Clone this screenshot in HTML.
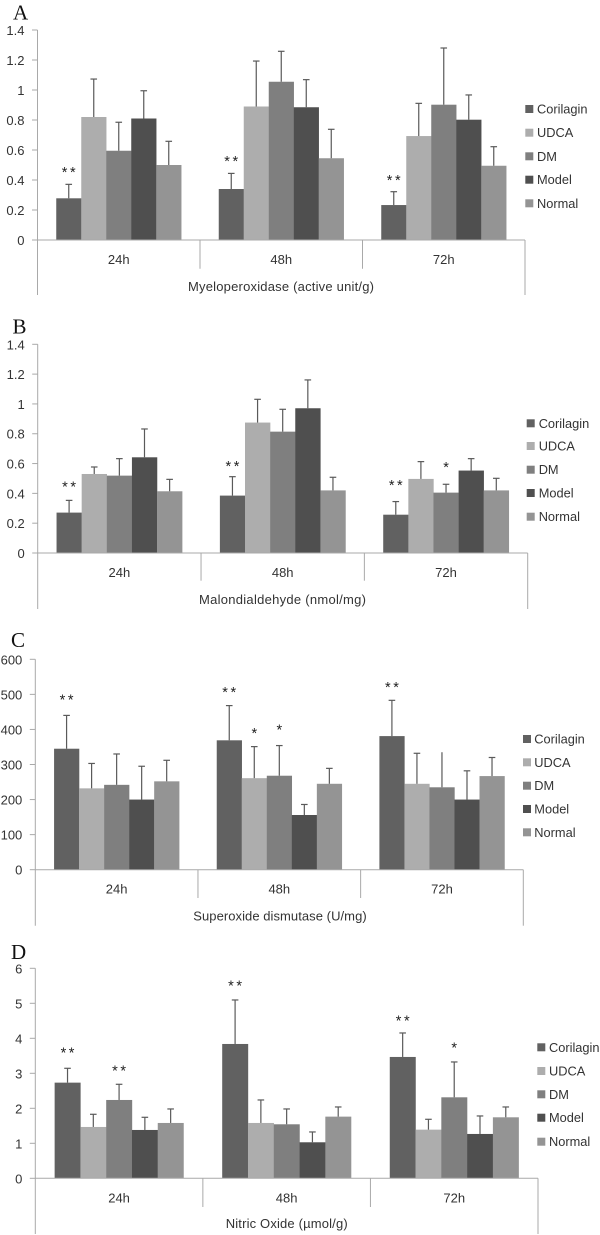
<!DOCTYPE html>
<html lang="en">
<head>
<meta charset="utf-8">
<title>Corilagin biochemical marker charts</title>
<style>
html,body{margin:0;padding:0;background:#fff;}
svg{display:block;filter:blur(0.3px);}
text{font-family:"Liberation Sans",sans-serif;font-size:13px;fill:#333;}
.letter{font-family:"Liberation Serif",serif;font-size:21px;fill:#111;}
.legend{font-size:12.8px;}
.star{font-size:14.5px;fill:#222;text-anchor:middle;letter-spacing:2.6px;}
</style>
</head>
<body>
<svg id="figure" xmlns="http://www.w3.org/2000/svg" width="600" height="1235" viewBox="0 0 600 1235">
  <rect x="0" y="0" width="600" height="1235" fill="#fff"/>

  <g id="panel-a">
    <text class="letter" x="13" y="19.5">A</text>
    <text x="188" y="291" textLength="186">Myeloperoxidase (active unit/g)</text>
    <g>
      <rect x="525.3" y="105" width="8" height="8" fill="#616161"/><text class="legend" x="537" y="113.5">Corilagin</text>
      <rect x="525.3" y="128.7" width="8" height="8" fill="#adadad"/><text class="legend" x="537" y="137.2">UDCA</text>
      <rect x="525.3" y="152.3" width="8" height="8" fill="#7f7f7f"/><text class="legend" x="537" y="160.8">DM</text>
      <rect x="525.3" y="175.7" width="8" height="8" fill="#4f4f4f"/><text class="legend" x="537" y="184.2">Model</text>
      <rect x="525.3" y="199.3" width="8" height="8" fill="#949494"/><text class="legend" x="537" y="207.8">Normal</text>
    </g>
  </g>

  <g id="panel-b">
    <text class="letter" x="12.5" y="333.5">B</text>
    <text x="199" y="604" textLength="167">Malondialdehyde (nmol/mg)</text>
    <g>
      <rect x="526.7" y="419.3" width="8" height="8" fill="#616161"/><text class="legend" x="538.7" y="427.8">Corilagin</text>
      <rect x="526.7" y="442" width="8" height="8" fill="#adadad"/><text class="legend" x="538.7" y="450.5">UDCA</text>
      <rect x="526.7" y="465.7" width="8" height="8" fill="#7f7f7f"/><text class="legend" x="538.7" y="474.2">DM</text>
      <rect x="526.7" y="489" width="8" height="8" fill="#4f4f4f"/><text class="legend" x="538.7" y="497.5">Model</text>
      <rect x="526.7" y="512.7" width="8" height="8" fill="#949494"/><text class="legend" x="538.7" y="521.2">Normal</text>
    </g>
  </g>

  <g id="panel-c">
    <text class="letter" x="11" y="647">C</text>
    <text x="193.3" y="920.7" textLength="173.4">Superoxide dismutase (U/mg)</text>
    <g>
      <rect x="523" y="735" width="8" height="8" fill="#616161"/><text class="legend" x="534.3" y="743.5">Corilagin</text>
      <rect x="523" y="758.3" width="8" height="8" fill="#adadad"/><text class="legend" x="534.3" y="766.8">UDCA</text>
      <rect x="523" y="781.7" width="8" height="8" fill="#7f7f7f"/><text class="legend" x="534.3" y="790.2">DM</text>
      <rect x="523" y="805" width="8" height="8" fill="#4f4f4f"/><text class="legend" x="534.3" y="813.5">Model</text>
      <rect x="523" y="828.3" width="8" height="8" fill="#949494"/><text class="legend" x="534.3" y="836.8">Normal</text>
    </g>
  </g>

  <g id="panel-d">
    <text class="letter" x="11" y="959">D</text>
    <text x="225.7" y="1228" textLength="122">Nitric Oxide (µmol/g)</text>
    <g>
      <rect x="537.3" y="1043.3" width="8" height="8" fill="#616161"/><text class="legend" x="549" y="1051.8">Corilagin</text>
      <rect x="537.3" y="1067" width="8" height="8" fill="#adadad"/><text class="legend" x="549" y="1075.5">UDCA</text>
      <rect x="537.3" y="1090.3" width="8" height="8" fill="#7f7f7f"/><text class="legend" x="549" y="1098.8">DM</text>
      <rect x="537.3" y="1113.7" width="8" height="8" fill="#4f4f4f"/><text class="legend" x="549" y="1122.2">Model</text>
      <rect x="537.3" y="1137.7" width="8" height="8" fill="#949494"/><text class="legend" x="549" y="1146.2">Normal</text>
    </g>
  </g>
</svg>

<script>
const categories = ['24h', '48h', '72h'];
const seriesNames = ['Corilagin', 'UDCA', 'DM', 'Model', 'Normal'];

const ticksA = ['0', '0.2', '0.4', '0.6', '0.8', '1', '1.2', '1.4'];
const valuesA = [
  [0.278, 0.82, 0.595, 0.81, 0.50],
  [0.34, 0.89, 1.055, 0.885, 0.545],
  [0.233, 0.693, 0.902, 0.802, 0.495]
];
const errorTopsA = [
  [0.371, 1.073, 0.785, 0.995, 0.658],
  [0.444, 1.193, 1.258, 1.069, 0.738],
  [0.322, 0.911, 1.28, 0.967, 0.622]
];
const starsA = [
  ['**', 0, 0, 0.467],
  ['**', 1, 0, 0.54],
  ['**', 2, 0, 0.415]
];

const ticksB = ['0', '0.2', '0.4', '0.6', '0.8', '1', '1.2', '1.4'];
const valuesB = [
  [0.271, 0.53, 0.519, 0.642, 0.414],
  [0.385, 0.875, 0.814, 0.971, 0.42],
  [0.257, 0.497, 0.405, 0.553, 0.42]
];
const errorTopsB = [
  [0.353, 0.577, 0.633, 0.832, 0.494],
  [0.512, 1.031, 0.964, 1.161, 0.508],
  [0.345, 0.613, 0.461, 0.633, 0.501]
];
const starsB = [
  ['**', 0, 0, 0.461],
  ['**', 1, 0, 0.597],
  ['**', 2, 0, 0.468],
  ['*', 2, 2, 0.589]
];

const ticksC = ['0', '100', '200', '300', '400', '500', '600'];
const valuesC = [
  [345, 232, 242, 200, 252],
  [369, 261, 268, 156, 245],
  [381, 245, 235, 200, 267]
];
const errorTopsC = [
  [440, 303, 330, 295, 312],
  [468, 351, 354, 186, 289],
  [483, 332, 335, 282, 320]
];
const starsC = [
  ['**', 0, 0, 491],
  ['**', 1, 0, 512],
  ['*', 1, 1, 396],
  ['*', 1, 2, 406],
  ['**', 2, 0, 526]
];
const uncappedC = ['2-2'];

const ticksD = ['0', '1', '2', '3', '4', '5', '6'];
const valuesD = [
  [2.733, 1.467, 2.238, 1.381, 1.581],
  [3.838, 1.581, 1.543, 1.029, 1.762],
  [3.467, 1.39, 2.314, 1.267, 1.743]
];
const errorTopsD = [
  [3.143, 1.829, 2.686, 1.743, 1.981],
  [5.095, 2.238, 1.981, 1.324, 2.038],
  [4.152, 1.686, 3.324, 1.781, 2.038]
];
const starsD = [
  ['**', 0, 0, 3.646],
  ['**', 0, 2, 3.131],
  ['**', 1, 0, 5.56],
  ['**', 2, 0, 4.571],
  ['*', 2, 2, 3.789]
];

const seriesColors = ['#616161', '#adadad', '#7f7f7f', '#4f4f4f', '#949494'];
const NS = 'http://www.w3.org/2000/svg';

function svgEl(parent, tag, attrs) {
  const el = document.createElementNS(NS, tag);
  for (const k in attrs) el.setAttribute(k, attrs[k]);
  parent.appendChild(el);
  return el;
}

function drawPanel(id, frame, ticks, values, errorTops, stars, uncapped) {
  const panel = document.getElementById(id);
  const maxTick = Number(ticks[ticks.length - 1]);
  const yScale = v => frame.y0 - (v / maxTick) * (frame.y0 - frame.top);
  const groupW = (frame.right - frame.left) / categories.length;
  const barW = groupW / (seriesNames.length + 1.5);
  const barX = (g, s) => frame.left + g * groupW + 0.75 * barW + s * barW;
  const axisColor = '#a9a9a9';

  // bars and error bars
  values.forEach((row, g) => {
    row.forEach((v, s) => {
      const bar = svgEl(panel, 'rect', {
        x: barX(g, s), y: yScale(v), width: barW + 0.2, height: frame.y0 - yScale(v), fill: seriesColors[s]
      });
      
      
    });
  });
  errorTops.forEach((row, g) => {
    row.forEach((v, s) => {
      const cx = barX(g, s) + barW / 2;
      const stem = svgEl(panel, 'line', {
        x1: cx, x2: cx, y1: yScale(values[g][s]), y2: yScale(v), stroke: '#5a5a5a', 'stroke-width': 1.2
      });
      
      
      if (uncapped.includes(g + '-' + s)) return;
      const cap = svgEl(panel, 'line', {
        x1: cx - 3.3, x2: cx + 3.3, y1: yScale(v), y2: yScale(v), stroke: '#5a5a5a', 'stroke-width': 1.2
      });
      
      
    });
  });

  // axes
  const yAxis = svgEl(panel, 'line', {
    x1: frame.left, x2: frame.left, y1: frame.top, y2: frame.axisEnd, stroke: axisColor, 'stroke-width': 1
  });
  
  
  const xAxis = svgEl(panel, 'line', {
    x1: frame.left, x2: frame.right, y1: frame.y0, y2: frame.y0, stroke: axisColor, 'stroke-width': 1
  });
  
  

  ticks.forEach(t => {
    const y = yScale(Number(t));
    const mark = svgEl(panel, 'line', {
      x1: frame.left - 5.5, x2: frame.left, y1: y, y2: y, stroke: axisColor, 'stroke-width': 1
    });
    
    
    const label = svgEl(panel, 'text', { x: frame.left - 13, y: y + 5, 'text-anchor': 'end' });
    
    
    label.textContent = t;
  });

  categories.forEach((c, g) => {
    const label = svgEl(panel, 'text', {
      x: frame.left + (g + 0.5) * groupW, y: frame.y0 + 24, 'text-anchor': 'middle'
    });
    
    
    label.textContent = c;
  });
  for (let g = 1; g <= categories.length; g++) {
    const x = frame.left + g * groupW;
    const div = svgEl(panel, 'line', {
      x1: x, x2: x, y1: frame.y0,
      y2: g === categories.length ? frame.axisEnd : frame.dividerEnd,
      stroke: axisColor, 'stroke-width': 1
    });
    
    
  }

  // significance stars
  stars.forEach(st => {
    const star = svgEl(panel, 'text', {
      class: 'star', x: barX(st[1], st[2]) + barW / 2 + 1.3, y: yScale(st[3]) + 7
    });
    
    
    star.textContent = st[0];
  });
}

drawPanel('panel-a', { left: 37.5, right: 525, top: 30, y0: 240, dividerEnd: 268.7, axisEnd: 295 }, ticksA, valuesA, errorTopsA, starsA, []);
drawPanel('panel-b', { left: 37.7, right: 527.7, top: 344.3, y0: 553, dividerEnd: 580.7, axisEnd: 609 }, ticksB, valuesB, errorTopsB, starsB, []);
drawPanel('panel-c', { left: 35.3, right: 523.3, top: 659.3, y0: 869.7, dividerEnd: 898, axisEnd: 925.7 }, ticksC, valuesC, errorTopsC, starsC, uncappedC);
drawPanel('panel-d', { left: 35.3, right: 538, top: 968.3, y0: 1178.3, dividerEnd: 1207, axisEnd: 1234 }, ticksD, valuesD, errorTopsD, starsD, []);
</script>
</body>
</html>
